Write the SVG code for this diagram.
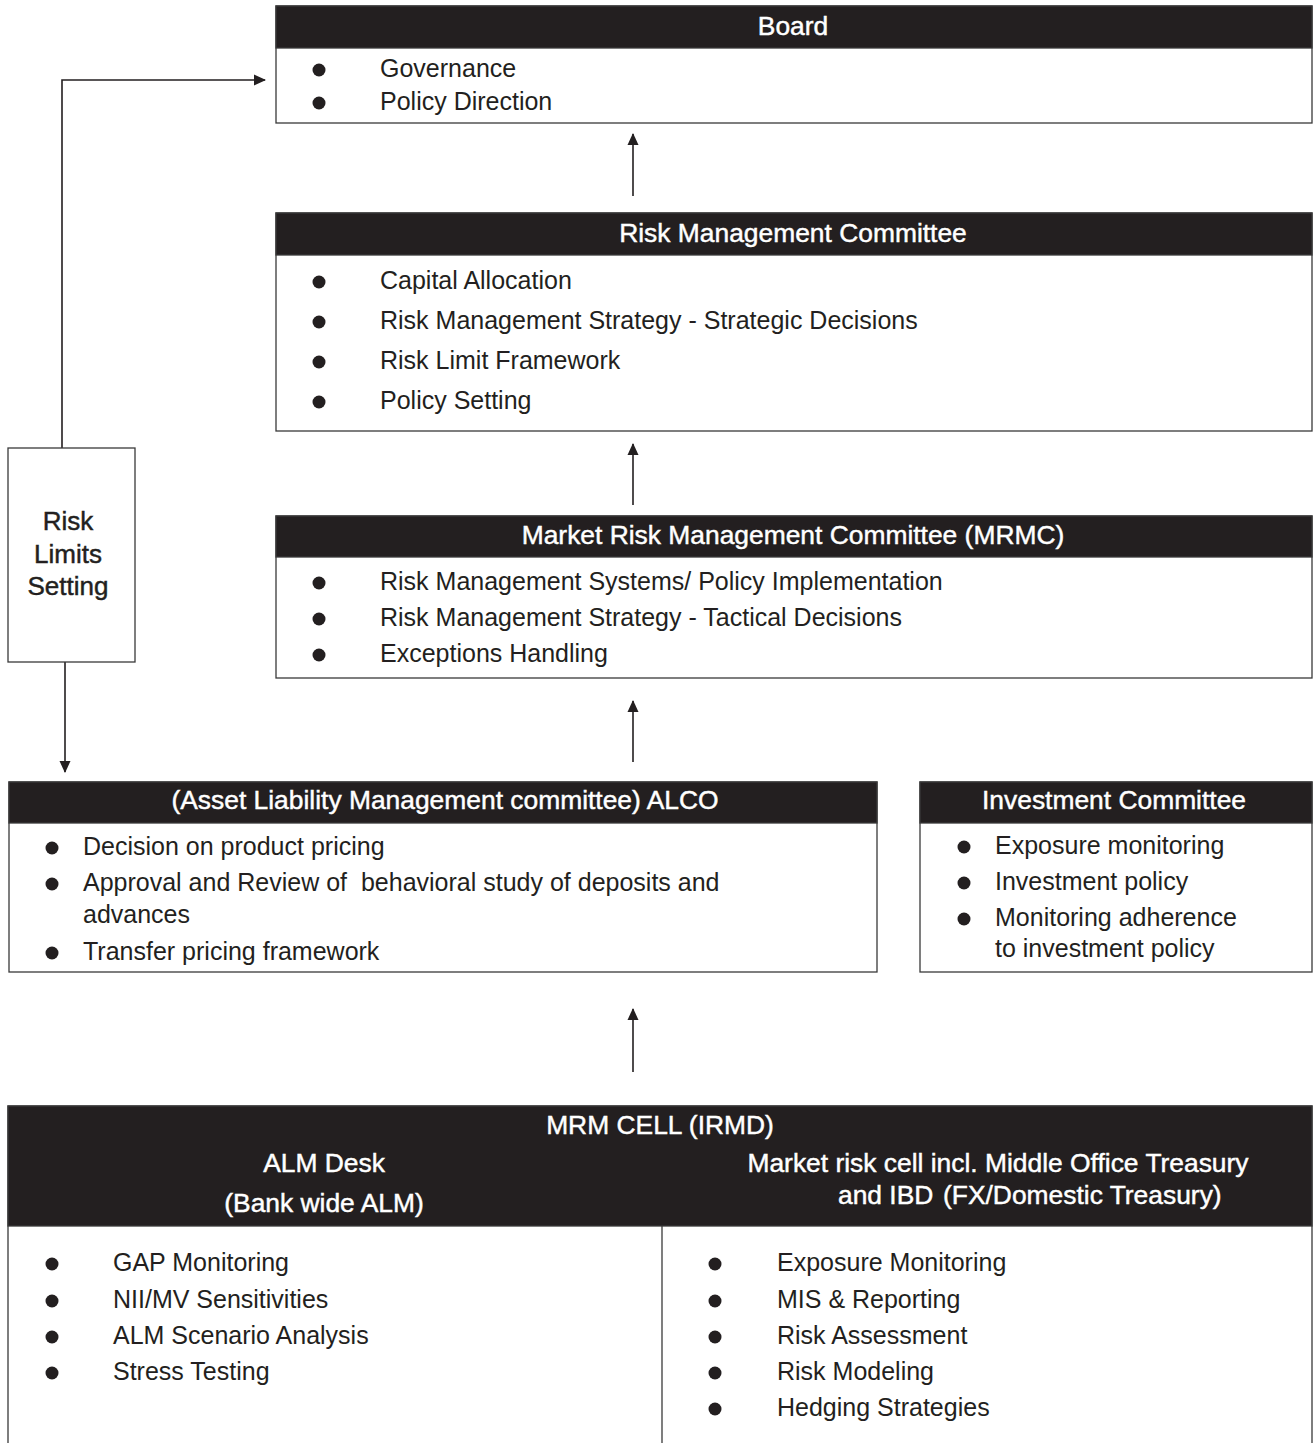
<svg xmlns="http://www.w3.org/2000/svg" width="1315" height="1443" viewBox="0 0 1315 1443">
<style>
.box{fill:#fff;stroke:#3a3a3a;stroke-width:1.3}
.hdr{fill:#231f20;stroke:#3a3a3a;stroke-width:1.3}
.ht{font-family:"Liberation Sans",Arial,sans-serif;font-size:26.4px;fill:#fff;stroke:#fff;stroke-width:0.45;text-anchor:middle}
.bt{font-family:"Liberation Sans",Arial,sans-serif;font-size:25px;fill:#231f20}
.rl{font-family:"Liberation Sans",Arial,sans-serif;font-size:26px;fill:#231f20;stroke:#231f20;stroke-width:0.45;text-anchor:middle}
.dot{fill:#231f20}
.cn{fill:none;stroke:#231f20;stroke-width:1.6}
</style>
<defs>
<marker id="ah" viewBox="0 0 12 12" refX="11" refY="6" markerWidth="12" markerHeight="12" markerUnits="userSpaceOnUse" orient="auto">
<path d="M0,0.5 L12,6 L0,11.5 Z" fill="#231f20"/>
</marker>
</defs>

<g id="connectors">
<line class="cn" x1="633" y1="196" x2="633" y2="134" marker-end="url(#ah)"/>
<line class="cn" x1="633" y1="505" x2="633" y2="444" marker-end="url(#ah)"/>
<line class="cn" x1="633" y1="762" x2="633" y2="701" marker-end="url(#ah)"/>
<line class="cn" x1="633" y1="1072" x2="633" y2="1009" marker-end="url(#ah)"/>
<polyline class="cn" points="62,448 62,80 265,80" marker-end="url(#ah)"/>
<line class="cn" x1="65" y1="662" x2="65" y2="772" marker-end="url(#ah)"/>
</g>

<g id="board">
<rect class="box" x="276" y="6" width="1036" height="117"/>
<rect class="hdr" x="276" y="6" width="1036" height="42"/>
<text class="ht" x="793" y="35">Board</text>
<circle class="dot" cx="319" cy="70" r="6.5"/>
<text class="bt" x="380" y="77">Governance</text>
<circle class="dot" cx="319" cy="103" r="6.5"/>
<text class="bt" x="380" y="110">Policy Direction</text>
</g>

<g id="rmc">
<rect class="box" x="276" y="213" width="1036" height="218"/>
<rect class="hdr" x="276" y="213" width="1036" height="42"/>
<text class="ht" x="793" y="242">Risk Management Committee</text>
<circle class="dot" cx="319" cy="282" r="6.5"/>
<text class="bt" x="380" y="289">Capital Allocation</text>
<circle class="dot" cx="319" cy="322" r="6.5"/>
<text class="bt" x="380" y="329">Risk Management Strategy - Strategic Decisions</text>
<circle class="dot" cx="319" cy="362" r="6.5"/>
<text class="bt" x="380" y="369">Risk Limit Framework</text>
<circle class="dot" cx="319" cy="402" r="6.5"/>
<text class="bt" x="380" y="409">Policy Setting</text>
</g>

<g id="mrmc">
<rect class="box" x="276" y="516" width="1036" height="162"/>
<rect class="hdr" x="276" y="516" width="1036" height="41"/>
<text class="ht" x="793" y="544">Market Risk Management Committee (MRMC)</text>
<circle class="dot" cx="319" cy="583" r="6.5"/>
<text class="bt" x="380" y="590">Risk Management Systems/ Policy Implementation</text>
<circle class="dot" cx="319" cy="619" r="6.5"/>
<text class="bt" x="380" y="626">Risk Management Strategy - Tactical Decisions</text>
<circle class="dot" cx="319" cy="655" r="6.5"/>
<text class="bt" x="380" y="662">Exceptions Handling</text>
</g>

<g id="risk-limits">
<rect class="box" x="8" y="448" width="127" height="214"/>
<text class="rl" x="68" y="530">Risk</text>
<text class="rl" x="68" y="563">Limits</text>
<text class="rl" x="68" y="595">Setting</text>
</g>

<g id="alco">
<rect class="box" x="9" y="782" width="868" height="190"/>
<rect class="hdr" x="9" y="782" width="868" height="41"/>
<text class="ht" x="445" y="809">(Asset Liability Management committee) ALCO</text>
<circle class="dot" cx="52" cy="848" r="6.5"/>
<text class="bt" x="83" y="855">Decision on product pricing</text>
<circle class="dot" cx="52" cy="884" r="6.5"/>
<text class="bt" x="83" y="891" xml:space="preserve">Approval and Review of  behavioral study of deposits and</text>
<text class="bt" x="83" y="923">advances</text>
<circle class="dot" cx="52" cy="953" r="6.5"/>
<text class="bt" x="83" y="960">Transfer pricing framework</text>
</g>

<g id="investment">
<rect class="box" x="920" y="782" width="392" height="190"/>
<rect class="hdr" x="920" y="782" width="392" height="41"/>
<text class="ht" x="1114" y="809">Investment Committee</text>
<circle class="dot" cx="964" cy="847" r="6.5"/>
<text class="bt" x="995" y="854">Exposure monitoring</text>
<circle class="dot" cx="964" cy="883" r="6.5"/>
<text class="bt" x="995" y="890">Investment policy</text>
<circle class="dot" cx="964" cy="919" r="6.5"/>
<text class="bt" x="995" y="926">Monitoring adherence</text>
<text class="bt" x="995" y="957">to investment policy</text>
</g>

<g id="mrm-cell">
<rect class="box" x="8" y="1106" width="1304" height="350"/>
<rect class="hdr" x="8" y="1106" width="1304" height="120"/>
<line x1="662" y1="1226" x2="662" y2="1443" stroke="#3a3a3a" stroke-width="1.3"/>
<text class="ht" x="660" y="1134">MRM CELL (IRMD)</text>
<text class="ht" x="324" y="1172">ALM Desk</text>
<text class="ht" x="324" y="1212">(Bank wide ALM)</text>
<text class="ht" x="998" y="1172">Market risk cell incl. Middle Office Treasury</text>
<text class="ht" style="text-anchor:start"><tspan x="838" y="1204">and IBD</tspan><tspan x="943" y="1204">(FX/Domestic Treasury)</tspan></text>
<circle class="dot" cx="52" cy="1264" r="6.5"/>
<text class="bt" x="113" y="1271">GAP Monitoring</text>
<circle class="dot" cx="52" cy="1301" r="6.5"/>
<text class="bt" x="113" y="1308">NII/MV Sensitivities</text>
<circle class="dot" cx="52" cy="1337" r="6.5"/>
<text class="bt" x="113" y="1344">ALM Scenario Analysis</text>
<circle class="dot" cx="52" cy="1373" r="6.5"/>
<text class="bt" x="113" y="1380">Stress Testing</text>
<circle class="dot" cx="715" cy="1264" r="6.5"/>
<text class="bt" x="777" y="1271">Exposure Monitoring</text>
<circle class="dot" cx="715" cy="1301" r="6.5"/>
<text class="bt" x="777" y="1308">MIS &amp; Reporting</text>
<circle class="dot" cx="715" cy="1337" r="6.5"/>
<text class="bt" x="777" y="1344">Risk Assessment</text>
<circle class="dot" cx="715" cy="1373" r="6.5"/>
<text class="bt" x="777" y="1380">Risk Modeling</text>
<circle class="dot" cx="715" cy="1409" r="6.5"/>
<text class="bt" x="777" y="1416">Hedging Strategies</text>
</g>
</svg>
